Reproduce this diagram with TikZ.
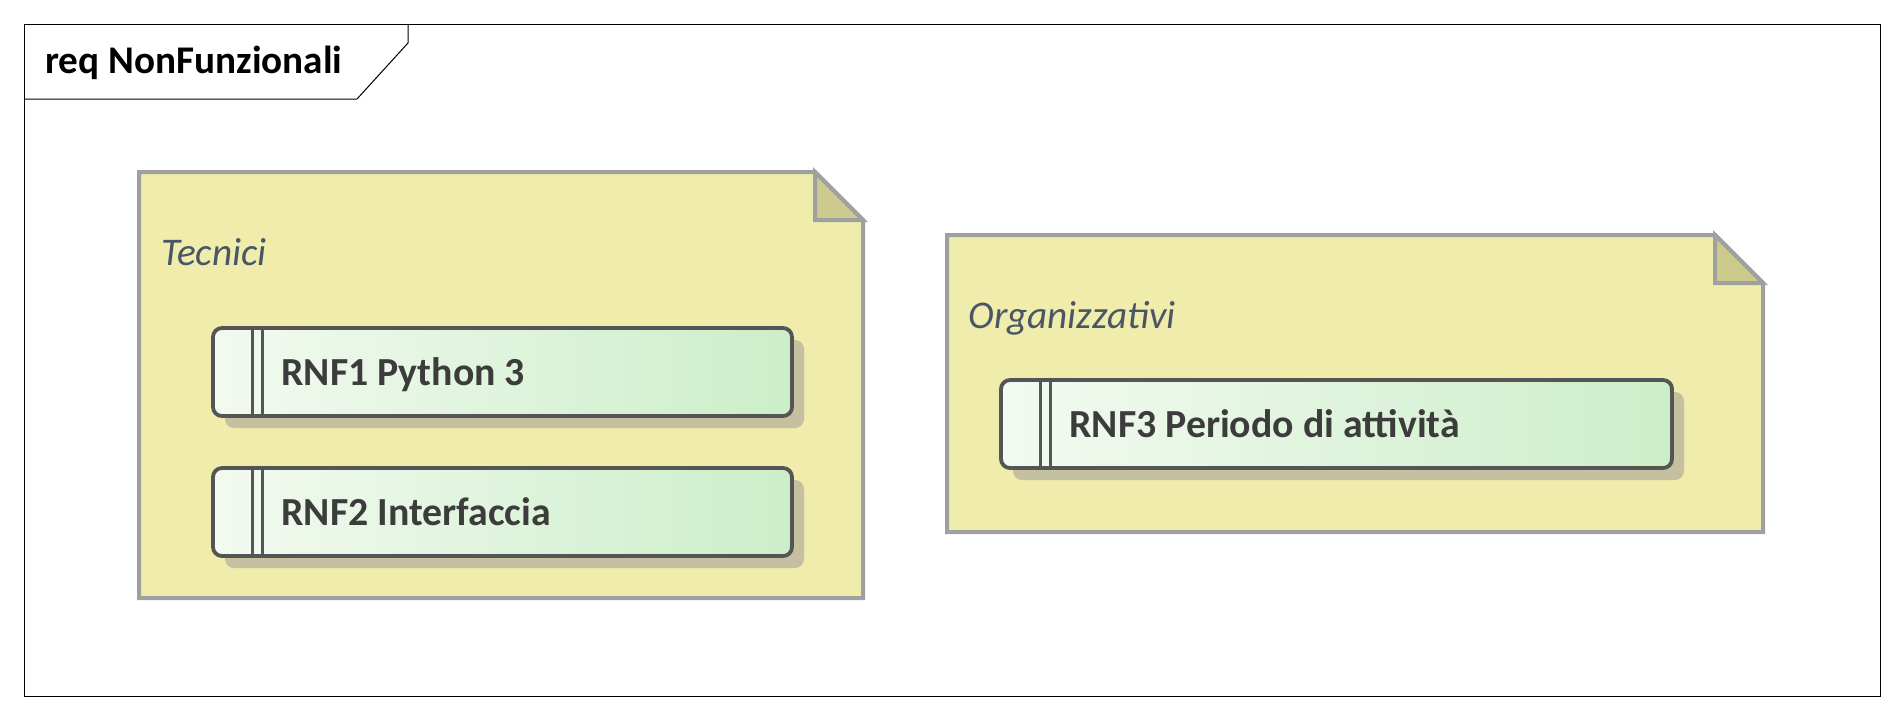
\documentclass[tikz,border=0pt]{standalone}
\usepackage{fontspec}
\setmainfont{Carlito}
\usetikzlibrary{shadows}

\definecolor{notefill}{HTML}{F0ECAC}
\definecolor{foldfill}{HTML}{CCCA8C}
\definecolor{notegray}{HTML}{A0A0A0}
\definecolor{boxline}{HTML}{555555}
\definecolor{boxleft}{HTML}{F3FAF1}
\definecolor{boxright}{HTML}{CBEEC8}
\definecolor{shadowc}{HTML}{C4C0A0}
\definecolor{labelc}{HTML}{3C3C3C}
\definecolor{groupc}{HTML}{4A5566}

\tikzset{
  note/.style={draw=notegray, line width=2pt, fill=notefill},
  fold/.style={draw=notegray, line width=2pt, fill=foldfill},
  reqbox/.style={draw=boxline, line width=1.9pt, rounded corners=4.5pt, outer sep=0pt,
    inner sep=0pt, anchor=north west, left color=boxleft, right color=boxright,
    drop shadow={shadow xshift=6pt, shadow yshift=-6pt, fill=shadowc, opacity=1}},
  reqtext/.style={anchor=base west, inner sep=0pt, text=labelc,
    font=\fontsize{19.9}{23}\selectfont\bfseries},
  grouptext/.style={anchor=base west, inner sep=0pt, text=groupc,
    font=\fontsize{19.6}{23}\selectfont\itshape},
  divider/.style={draw=boxline, line width=1.6pt}
}

\begin{document}
\begin{tikzpicture}[x=0.5pt, y=-0.5pt]
  \useasboundingbox[fill=white] (0,0) rectangle (1904,720);

  % Cornice del diagramma
  \draw[black, line width=0.5pt] (24,24) rectangle (1880,696);
  \draw[black, line width=0.5pt] (24,99) -- (357,99) -- (408,43) -- (408,24);
  \node[anchor=base west, inner sep=0pt, font=\fontsize{19.6}{23}\selectfont\bfseries]
    (title) at (45,73) {req NonFunzionali};

  % Nota "Tecnici"
  \draw[note] (139,172) -- (815,172) -- (863,220) -- (863,598) -- (139,598) -- cycle;
  \draw[fold] (815,172) -- (815,220) -- (863,220) -- cycle;
  \node[grouptext] (tecnici) at (161,265) {Tecnici};

  % Nota "Organizzativi"
  \draw[note] (947,235) -- (1715,235) -- (1763,283) -- (1763,532) -- (947,532) -- cycle;
  \draw[fold] (1715,235) -- (1715,283) -- (1763,283) -- cycle;
  \node[grouptext] (organizzativi) at (968,328) {Organizzativi};

  % Requisiti
  \node[reqbox, minimum width=289.5pt, minimum height=44pt] (rnf1) at (213,328) {};
  \node[reqbox, minimum width=289.5pt, minimum height=44pt] (rnf2) at (213,468) {};
  \node[reqbox, minimum width=335.5pt, minimum height=44pt] (rnf3) at (1001,380) {};

  \foreach \r in {rnf1,rnf2,rnf3} {
    \draw[divider] ([xshift=19.7pt]\r.north west) -- ([xshift=19.7pt]\r.south west);
    \draw[divider] ([xshift=24.7pt]\r.north west) -- ([xshift=24.7pt]\r.south west);
  }

  \node[reqtext] (rnf1txt) at (281,385) {RNF1 Python 3};
  \node[reqtext] (rnf2txt) at (281,525) {RNF2 Interfaccia};
  \node[reqtext] (rnf3txt) at (1069,437) {RNF3 Periodo di attività};
\end{tikzpicture}
\end{document}
